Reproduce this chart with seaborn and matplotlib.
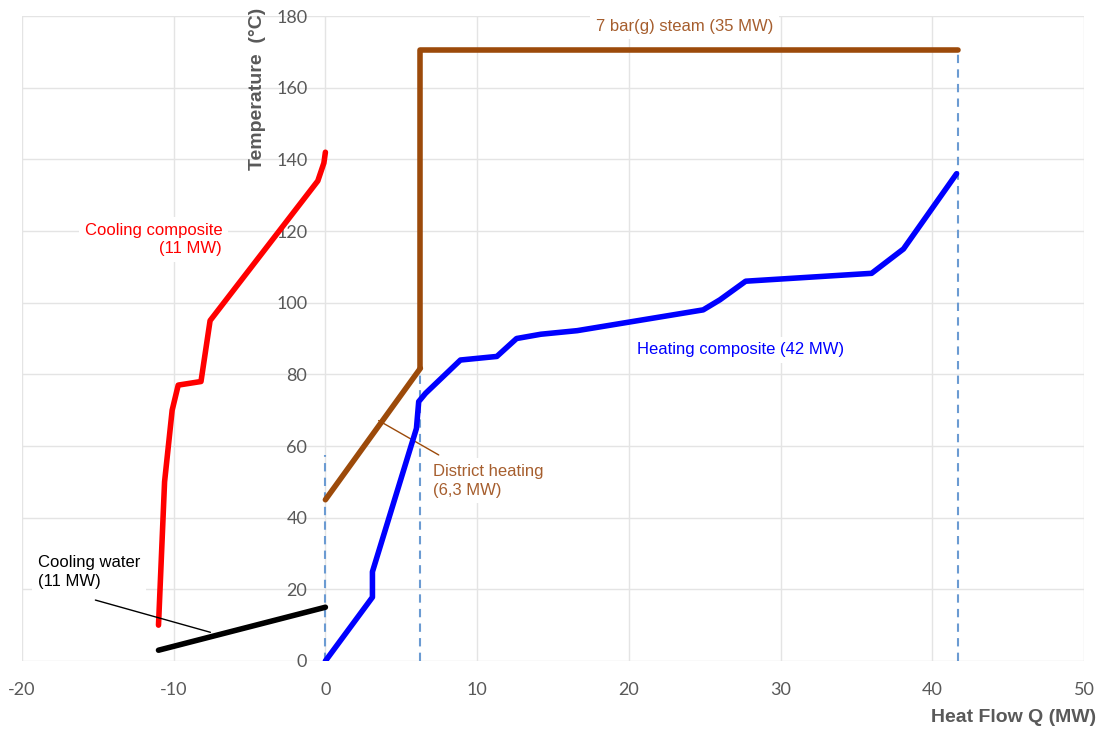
import matplotlib
matplotlib.use("Agg")
import matplotlib.pyplot as plt
import seaborn as sns
import pandas as pd

# ---- data ----
cooling_q = [-11.0, -10.6, -10.1, -9.7, -8.2, -7.6, -0.5, -0.1, 0.0]
cooling_t = [10, 50, 70, 77, 78, 95, 134, 139, 142]

water_q = [-11.0, 0.0]
water_t = [3, 15]

district_q = [0.0, 6.26]
district_t = [45, 81.7]

steam_q = [6.26, 6.26, 41.7]
steam_t = [81.7, 170.5, 170.5]

heating_q = [0.0, 3.1, 3.1, 6.0, 6.15, 6.6, 8.9, 11.3, 12.6, 14.2, 16.6, 24.9, 26.0, 27.7, 36.0, 38.1, 41.6]
heating_t = [0, 17.8, 24.9, 64.9, 72.4, 74.7, 84, 85, 90, 91.2, 92.2, 98, 100.8, 106, 108.2, 115, 136]

dash_q = [0.0, 6.26, 41.7]
dash_top = [57.5, 86.8, 170.5]

x_ticks = [-20, -10, 0, 10, 20, 30, 40, 50]
y_ticks = [0, 20, 40, 60, 80, 100, 120, 140, 160, 180]

sns.set_theme(style="white")
plt.rcParams['font.family'] = ['Liberation Sans', 'DejaVu Sans']

fig = plt.figure(figsize=(11.03, 7.31), dpi=100)
ax = fig.add_axes([0.0199, 0.0958, 0.9629, 0.8822])

BROWN = '#9C4A0A'
BROWN_TXT = '#A65E2E'
GRAY = '#595959'

# dashed guides
for q, top in zip(dash_q, dash_top):
    ax.plot([q, q], [0, top], color='#6B9BD2', lw=1.5, ls=(0, (4, 3)), zorder=2)

def curve(q, t, color):
    df = pd.DataFrame({'q': q, 't': t})
    sns.lineplot(data=df, x='q', y='t', sort=False, estimator=None, color=color, lw=4,
                 ax=ax, zorder=4, solid_capstyle='round', solid_joinstyle='round')

curve(cooling_q, cooling_t, '#FF0000')
curve(water_q, water_t, '#000000')
curve(district_q, district_t, BROWN)
curve(steam_q, steam_t, BROWN)
curve(heating_q, heating_t, '#0000FF')

ax.set_xlim(-20, 50)
ax.set_ylim(0, 180)
ax.set_xticks(x_ticks)
ax.set_yticks(y_ticks)
ax.set_xticklabels([str(v) for v in x_ticks])
ax.set_yticklabels([str(v) for v in y_ticks])
ax.grid(True, color='#E4E4E4', lw=1)
ax.set_axisbelow(True)
for s in ax.spines.values():
    s.set_visible(False)

ax.spines['left'].set_position(('data', 0))
ax.tick_params(axis='y', length=0, pad=13, labelcolor=GRAY, labelsize=13)
ax.tick_params(axis='x', length=0, pad=15, labelcolor=GRAY, labelsize=13)
for lab in ax.get_xticklabels() + ax.get_yticklabels():
    lab.set_fontfamily(['Lato', 'DejaVu Sans'])

ax.set_xlabel('')
ax.set_ylabel('')
fig.text(0.994, 0.018, 'Heat Flow Q (MW)', ha='right', va='center',
         fontsize=14, fontweight='bold', color=GRAY,
         transform=fig.transFigure)
fig.texts[-1].set_position((0.994, 1 - 718 / 731))
fig.text(258 / 1103, 0.99, 'Temperature  (°C)', ha='center', va='top', rotation=90,
         fontsize=14, fontweight='bold', color=GRAY)

box = dict(facecolor='white', edgecolor='none', pad=4)
fs = 12
ax.text(-6.8, 117.6, 'Cooling composite\n(11 MW)', ha='right', va='center',
        color='#FF0000', fontsize=fs, bbox=box, linespacing=1.3, zorder=5)
ax.text(23.67, 177.2, '7 bar(g) steam (35 MW)', ha='center', va='center',
        color=BROWN_TXT, fontsize=fs, bbox=box, zorder=5)
ax.text(20.55, 86.8, 'Heating composite (42 MW)', ha='left', va='center',
        color='#0000FF', fontsize=fs, bbox=box, zorder=5)
ax.text(7.1, 50.3, 'District heating\n(6,3 MW)', ha='left', va='center',
        color=BROWN_TXT, fontsize=fs, bbox=box, linespacing=1.3, zorder=5)
ax.text(-18.96, 24.9, 'Cooling water\n(11 MW)', ha='left', va='center',
        color='#000000', fontsize=fs, bbox=box, linespacing=1.3, zorder=5)

# leader lines
ax.plot([3.51, 7.47], [67.1, 57.5], color=BROWN, lw=1, zorder=3)
ax.plot([-15.16, -7.58], [17.0, 8.0], color='#000000', lw=1, zorder=5)

fig.savefig('out.png', dpi=100, facecolor='white')
